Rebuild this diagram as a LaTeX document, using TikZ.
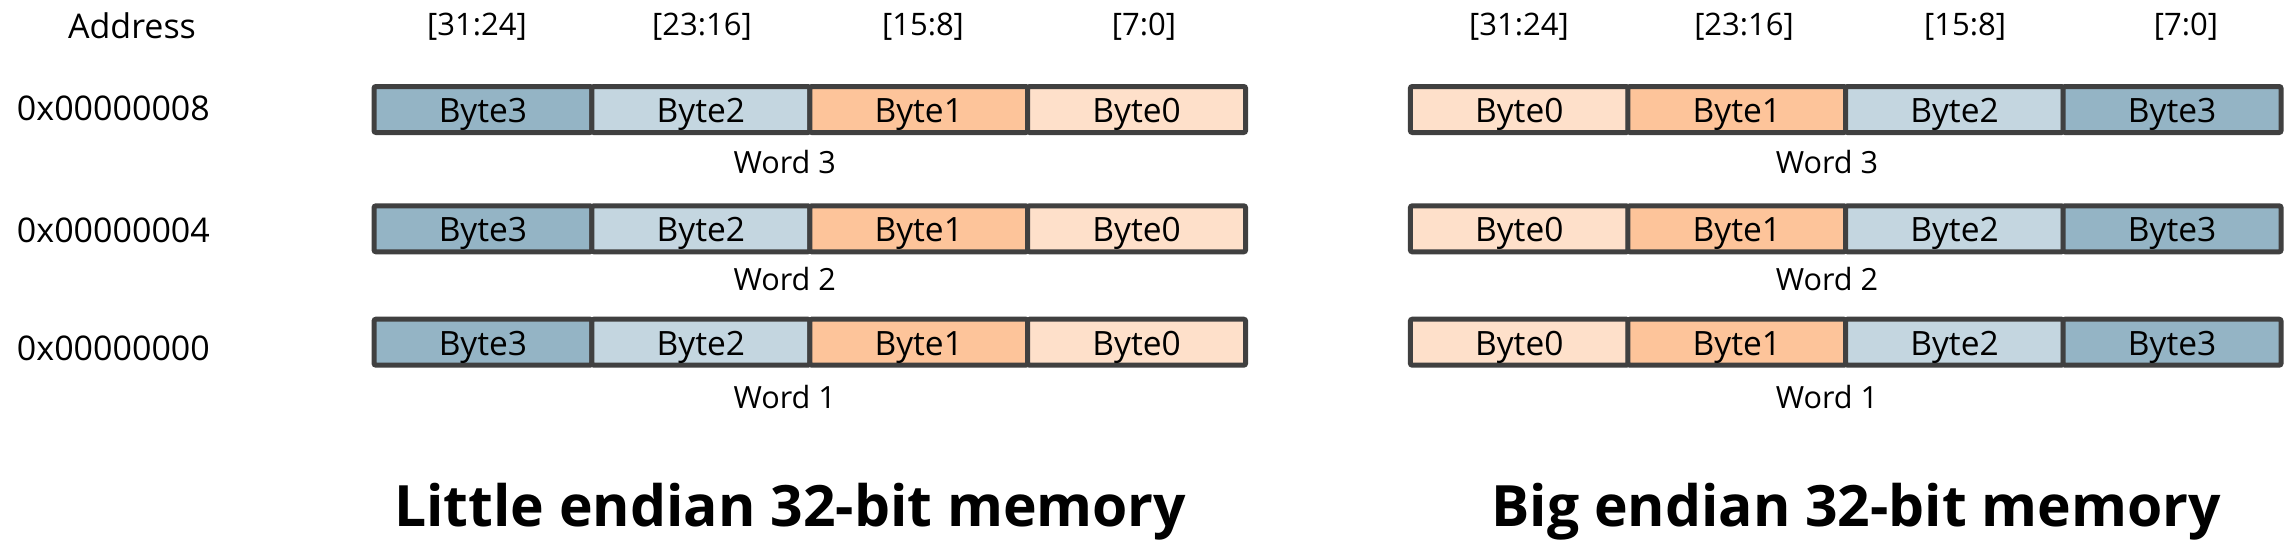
\documentclass[tikz,border=0pt]{standalone}
\usepackage{fontspec}
\setmainfont{Open Sans}
\definecolor{cA}{HTML}{94B4C5}
\definecolor{cB}{HTML}{C4D6E0}
\definecolor{cC}{HTML}{FDC49A}
\definecolor{cD}{HTML}{FEE0CA}
\definecolor{edge}{HTML}{404040}
\begin{document}
\begin{tikzpicture}[x=0.5pt,y=-0.5pt,
  cell/.style={draw=edge, line width=2.5pt, rounded corners=1pt, inner sep=0pt,
    minimum width=108.95pt, minimum height=23pt, text height=13.1pt, text depth=0pt,
    font=\fontsize{16.75pt}{18pt}\selectfont},
  addr/.style={anchor=base west, inner sep=0pt, font=\fontsize{17pt}{19pt}\selectfont},
  hdr/.style={anchor=base, inner sep=0pt, font=\fontsize{15.5pt}{17pt}\selectfont},
  wordlab/.style={anchor=base, inner sep=0pt, font=\fontsize{15.3pt}{17pt}\selectfont},
  ttl/.style={anchor=base west, inner sep=0pt, font=\fontsize{28.5pt}{32pt}\selectfont\bfseries}]
\useasboundingbox (0,0) rectangle (2295,546);
\fill[white] (0,0) rectangle (2295,546);
% header
\node[anchor=base, inner sep=0pt, font=\fontsize{17pt}{19pt}\selectfont] (addrhdr) at (132,38) {Address};
\node[hdr] (lh0) at (477,35) {[31:24]};
\node[hdr] (lh1) at (702,35) {[23:16]};
\node[hdr] (lh2) at (923,35) {[15:8]};
\node[hdr] (lh3) at (1144,35) {[7:0]};
\node[hdr] (rh0) at (1519,35) {[31:24]};
\node[hdr] (rh1) at (1744,35) {[23:16]};
\node[hdr] (rh2) at (1965,35) {[15:8]};
\node[hdr] (rh3) at (2186,35) {[7:0]};
% addresses
\node[addr] (a8) at (16.6,120) {0x00000008};
\node[addr] (a4) at (16.6,242.3) {0x00000004};
\node[addr] (a0) at (16.6,360) {0x00000000};
% cells
\foreach \r/\y in {3/109.5, 2/228.8, 1/342.2} {
  \foreach \k/\lab/\col in {0/Byte3/cA, 1/Byte2/cB, 2/Byte1/cC, 3/Byte0/cD} {
    \node[cell, fill=\col] (L\r c\k) at ({482.95+217.9*\k}, \y) {\lab};
  }
  \foreach \k/\lab/\col in {0/Byte0/cD, 1/Byte1/cC, 2/Byte2/cB, 3/Byte3/cA} {
    \node[cell, fill=\col] (R\r c\k) at ({1519.3+217.6*\k}, \y) {\lab};
  }
}
% word labels
\node[wordlab] (lw3) at (784.7,173) {Word 3};
\node[wordlab] (lw2) at (784.7,290.7) {Word 2};
\node[wordlab] (lw1) at (784.7,408) {Word 1};
\node[wordlab] (rw3) at (1827,173) {Word 3};
\node[wordlab] (rw2) at (1827,290.7) {Word 2};
\node[wordlab] (rw1) at (1827,408) {Word 1};
% titles
\node[ttl] (lt) at (394,526) {Little endian 32-bit memory};
\node[ttl] (rt) at (1491,526) {Big endian 32-bit memory};
\end{tikzpicture}
\end{document}
